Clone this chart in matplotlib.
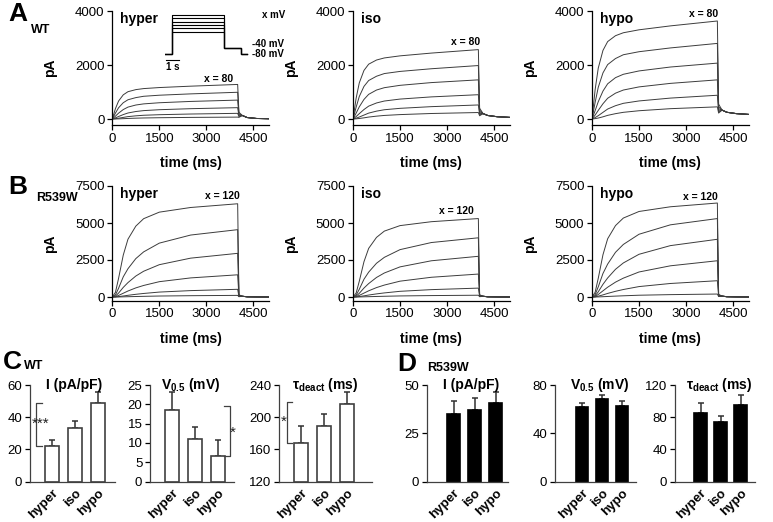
import numpy as np
import matplotlib
matplotlib.use('Agg')
import matplotlib.pyplot as plt

plt.rcParams['font.family'] = ['Liberation Sans', 'DejaVu Sans']
plt.rcParams['mathtext.fontset'] = 'custom'
plt.rcParams['mathtext.rm'] = 'Liberation Sans'
plt.rcParams['mathtext.bf'] = 'Liberation Sans:bold'
plt.rcParams['mathtext.it'] = 'Liberation Sans:italic'

W, H = 773, 522

### current traces
# time points of the step (ms) and of the tail after the step
t_step = [0, 100, 200, 350, 500, 750, 1000, 1500, 2500, 4000]
t_tail = [4040, 4150, 4300, 4600, 5000]

# fraction of end-of-step current, largest trace first
frac_wt = [
    [0, 0.30, 0.52, 0.70, 0.79, 0.85, 0.88, 0.91, 0.95, 1.0],
    [0, 0.22, 0.42, 0.61, 0.72, 0.80, 0.85, 0.89, 0.94, 1.0],
    [0, 0.15, 0.31, 0.50, 0.63, 0.74, 0.80, 0.86, 0.93, 1.0],
    [0, 0.10, 0.22, 0.39, 0.53, 0.66, 0.74, 0.82, 0.91, 1.0],
    [0, 0.06, 0.14, 0.28, 0.42, 0.56, 0.66, 0.76, 0.88, 1.0],
    [0, 0.03, 0.08, 0.18, 0.30, 0.44, 0.55, 0.68, 0.85, 1.0],
]
frac_mut = [
    [0, 0.05, 0.20, 0.45, 0.62, 0.76, 0.84, 0.91, 0.96, 1.0],
    [0, 0.03, 0.13, 0.30, 0.42, 0.57, 0.67, 0.80, 0.92, 1.0],
    [0, 0.02, 0.09, 0.22, 0.33, 0.48, 0.59, 0.74, 0.89, 1.0],
    [0, 0.01, 0.07, 0.17, 0.27, 0.41, 0.52, 0.69, 0.86, 1.0],
    [0, 0.01, 0.05, 0.13, 0.22, 0.35, 0.46, 0.64, 0.83, 1.0],
    [0, 0.00, 0.03, 0.10, 0.18, 0.30, 0.41, 0.60, 0.80, 1.0],
]

# end-of-step amplitudes (pA)
wt_hyper_amp = [1280, 990, 700, 420, 210, 70]
wt_iso_amp = [2570, 1980, 1450, 900, 520, 240]
wt_hypo_amp = [3630, 2800, 2070, 1450, 880, 450]
mut_hyper_amp = [6300, 4550, 2950, 1500, 520, 110]
mut_iso_amp = [5300, 4000, 2750, 1550, 600, 120]
mut_hypo_amp = [6350, 5300, 3900, 2450, 1100, 200]

# tail: first point per trace, then shared decay (pA)
wt_hyper_tail0 = [250, 200, 160, 120, 90, 60]
wt_hyper_decay = [130, 55, 20, 10]
wt_iso_tail0 = [400, 330, 270, 210, 160, 120]
wt_iso_decay = [200, 130, 85, 60]
wt_hypo_tail0 = [550, 450, 380, 320, 260, 220]
wt_hypo_decay = [330, 250, 200, 170]
mut_hyper_tail0 = [150, 120, 90, 60, 40, 20]
mut_hyper_decay = [50, 15, 5, 0]
mut_iso_tail0 = [150, 120, 90, 60, 40, 20]
mut_iso_decay = [50, 15, 5, 0]
mut_hypo_tail0 = [180, 140, 100, 70, 50, 30]
mut_hypo_decay = [60, 20, 8, 0]

### summary bars
conds = ['hyper', 'iso', 'hypo']
wt_I = [22, 33.3, 48.6]
wt_I_err = [4.0, 4.2, 6.9]
wt_V = [18.6, 11.1, 6.5]
wt_V_err = [4.7, 3.0, 4.3]
wt_tau = [167.6, 189, 216.4]
wt_tau_err = [22, 14.5, 15.3]
mut_I = [35, 37.2, 40.5]
mut_I_err = [6.5, 6.3, 6.0]
mut_V = [61.5, 68.4, 62.5]
mut_V_err = [3.5, 3.0, 4.0]
mut_tau = [85, 74, 95]
mut_tau_err = [13, 8, 12]


def px_axes(fig, left, top, right, bottom):
    return fig.add_axes([left / W, 1 - bottom / H, (right - left) / W, (bottom - top) / H])


def style(ax):
    for s in ['top', 'right']:
        ax.spines[s].set_visible(False)
    for s in ['left', 'bottom']:
        ax.spines[s].set_linewidth(0.9)
    ax.tick_params(direction='out', length=3.5, width=0.9, labelsize=9.5, pad=2)


fig = plt.figure(figsize=(W / 100, H / 100), dpi=100)

trace_panels = [
    (wt_hyper_amp, wt_hyper_tail0, wt_hyper_decay, frac_wt, 'hyper', 'x = 80', 0),
    (wt_iso_amp, wt_iso_tail0, wt_iso_decay, frac_wt, 'iso', 'x = 80', 1),
    (wt_hypo_amp, wt_hypo_tail0, wt_hypo_decay, frac_wt, 'hypo', 'x = 80', 2),
    (mut_hyper_amp, mut_hyper_tail0, mut_hyper_decay, frac_mut, 'hyper', 'x = 120', 0),
    (mut_iso_amp, mut_iso_tail0, mut_iso_decay, frac_mut, 'iso', 'x = 120', 1),
    (mut_hypo_amp, mut_hypo_tail0, mut_hypo_decay, frac_mut, 'hypo', 'x = 120', 2),
]
lefts = [112.3, 353, 592]
# label positions (axes fraction) for the "x = ..." text
xlab_pos = [(0.68, 0.40), (0.72, 0.73), (0.71, 0.975), (0.70, 0.91), (0.66, 0.78), (0.69, 0.90)]

trace_axes = []
for k, (amps, tail0, decay, frac, name, xl, col) in enumerate(trace_panels):
    wt = k < 3
    if wt:
        ax = px_axes(fig, lefts[col], 11, lefts[col] + 156.7, 125)
        ax.set_ylim(-222, 4000)
        ax.set_yticks([0, 2000, 4000])
    else:
        ax = px_axes(fig, lefts[col], 186, lefts[col] + 156.7, 300.7)
        ax.set_ylim(-250, 7500)
        ax.set_yticks([0, 2500, 5000, 7500])
    style(ax)
    ax.set_xlim(0, 5000)
    ax.set_xticks([0, 1500, 3000, 4500])
    for i, a in enumerate(amps):
        y = [a * f for f in frac[i]] + [tail0[i]] + decay
        ax.plot(t_step + t_tail, y, color='#3c3c3c', lw=0.7)
    ax.text(0.05, 0.99, name, transform=ax.transAxes, fontsize=10, fontweight='bold', va='top')
    ax.text(xlab_pos[k][0], xlab_pos[k][1], xl, transform=ax.transAxes, fontsize=7.5,
            fontweight='bold', ha='center', va='center')
    ax.set_ylabel('pA', fontsize=10, fontweight='bold')
    ax.yaxis.set_label_coords(-0.35, 0.5)
    ax.text(0.5, -0.33, 'time (ms)', transform=ax.transAxes, fontsize=10,
            fontweight='bold', ha='center', va='center')
    trace_axes.append(ax)

# voltage protocol sketch in the first panel
proto_levels = [3.42, 3.93, 4.44, 4.95, 5.45, 5.95]
ins = px_axes(fig, 165, 10, 290, 70)
ins.set_xlim(-0.5, 9.08)
ins.set_ylim(-2.38, 6.71)
ins.axis('off')
for lv in proto_levels:
    ins.plot([-0.5, 0, 0, 4.0, 4.0, 5.36, 5.36, 5.76], [0, 0, lv, lv, 1, 1, 0, 0],
             color='black', lw=0.8)
ins.plot([-0.45, 0.6], [-0.86, -0.86], color='black', lw=0.8)
ins.text(0.07, -1.9, '1 s', fontsize=7, fontweight='bold', ha='center', va='center')
ins.text(6.9, 5.95, 'x mV', fontsize=7, fontweight='bold', va='center')
ins.text(6.14, 1.55, '-40 mV', fontsize=7, fontweight='bold', va='center')
ins.text(6.14, 0.05, '-80 mV', fontsize=7, fontweight='bold', va='center')

### bar charts
def bar_panel(left, right, vals, errs, ylim, yticks, title, filled, title_x=0.5, spacing=23, first=22):
    ax = px_axes(fig, left, 385, right, 481.5)
    x = np.arange(len(conds))
    a = first / spacing
    b = (right - left - first - 2 * spacing) / spacing
    ax.set_xlim(-a, 2 + b)
    ax.set_ylim(*ylim)
    fc = 'black' if filled else 'white'
    ec = 'black' if filled else '#404040'
    ax.bar(x, np.array(vals) - ylim[0], bottom=ylim[0], width=0.62, color=fc,
           edgecolor=ec, linewidth=1.2, zorder=2)
    ax.errorbar(x, vals, yerr=[np.zeros(3), errs], fmt='none', ecolor='#303030',
                elinewidth=1.1, capsize=2.5, capthick=1.1, zorder=1)
    style(ax)
    ax.spines['left'].set_color('#404040')
    ax.spines['bottom'].set_color('#404040')
    ax.set_yticks(yticks)
    ax.set_xticks(x)
    ax.set_xticklabels(conds, rotation=45, ha='right', rotation_mode='anchor',
                       fontweight='bold', fontsize=9.5)
    ax.tick_params(axis='x', length=0, pad=4)
    ax.text(title_x, 1.0, title, transform=ax.transAxes, fontsize=10,
            fontweight='bold', ha='center', va='center')
    return ax

axC1 = bar_panel(30, 115, wt_I, wt_I_err, (0, 60), [0, 20, 40, 60], 'I (pA/pF)', False, 0.52)
axC2 = bar_panel(150, 234, wt_V, wt_V_err, (0, 25), [0, 5, 10, 15, 20, 25],
                 r'V$_{\mathbf{0.5}}$ (mV)', False, 0.48)
axC3 = bar_panel(279, 372, wt_tau, wt_tau_err, (120, 240), [120, 160, 200, 240],
                 r'τ$_{\mathbf{deact}}$ (ms)', False, 0.5)
axD1 = bar_panel(427, 508, mut_I, mut_I_err, (0, 50), [0, 25, 50], 'I (pA/pF)', True, 0.55,
                 spacing=21, first=26.5)
axD2 = bar_panel(555, 636, mut_V, mut_V_err, (0, 80), [0, 40, 80],
                 r'V$_{\mathbf{0.5}}$ (mV)', True, 0.55, spacing=20, first=27)
axD3 = bar_panel(675, 755, mut_tau, mut_tau_err, (0, 120), [0, 40, 80, 120],
                 r'τ$_{\mathbf{deact}}$ (ms)', True, 0.55, spacing=20, first=25.5)

# significance brackets
def bracket(ax, xpos, y0, y1, arm, label, lx, ly):
    ax.plot([xpos + arm, xpos, xpos, xpos + arm], [y1, y1, y0, y0], color='#404040',
            lw=0.9, clip_on=False)
    ax.text(lx, ly, label, fontsize=11, ha='center', va='center', color='#202020')

bracket(axC1, -0.7, wt_I[0], wt_I[2], 0.25, '***', -0.5, 36)
bracket(axC2, 2.5, wt_V[2], wt_V[0] + 1, -0.25, '*', 2.62, 12.5)
bracket(axC3, -0.6, wt_tau[0], 219, 0.22, '*', -0.75, 194)

### panel letters
fig.text(8 / W, 1 - 14 / H, 'A', fontsize=19, fontweight='bold', va='center')
fig.text(31 / W, 1 - 30 / H, 'WT', fontsize=9, fontweight='bold', va='center')
fig.text(8 / W, 1 - 187 / H, 'B', fontsize=19, fontweight='bold', va='center')
fig.text(36 / W, 1 - 198 / H, 'R539W', fontsize=9, fontweight='bold', va='center')
fig.text(3 / W, 1 - 362 / H, 'C', fontsize=19, fontweight='bold', va='center')
fig.text(24 / W, 1 - 366 / H, 'WT', fontsize=9, fontweight='bold', va='center')
fig.text(397 / W, 1 - 364 / H, 'D', fontsize=19, fontweight='bold', va='center')
fig.text(427 / W, 1 - 368 / H, 'R539W', fontsize=9, fontweight='bold', va='center')

fig.savefig('out.png', dpi=100)
